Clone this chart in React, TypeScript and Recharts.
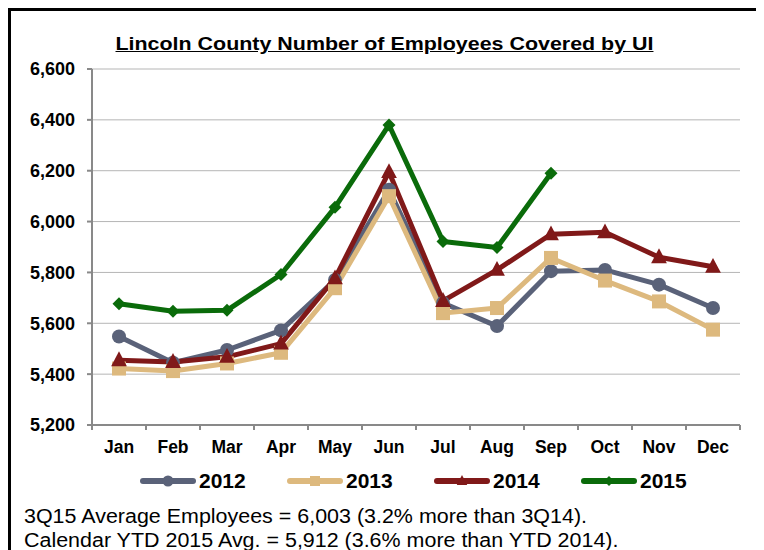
import React from 'react';
import { LineChart, Line, XAxis, YAxis, CartesianGrid } from 'recharts';

const months = ['Jan', 'Feb', 'Mar', 'Apr', 'May', 'Jun', 'Jul', 'Aug', 'Sep', 'Oct', 'Nov', 'Dec'];
const y2012 = [5548, 5445, 5495, 5572, 5770, 6125, 5680, 5589, 5805, 5810, 5752, 5660];
const y2013 = [5422, 5412, 5442, 5484, 5738, 6100, 5640, 5660, 5857, 5768, 5686, 5575];
const y2014 = [5455, 5448, 5468, 5520, 5777, 6195, 5688, 5810, 5950, 5958, 5860, 5822];
const y2015 = [5677, 5647, 5651, 5792, 6056, 6380, 5922, 5898, 6190, null, null, null];
const yTicks = [5200, 5400, 5600, 5800, 6000, 6200, 6400, 6600];

const seriesList = [
  { key: 'y2012', name: '2012', values: y2012, color: '#5A6279', shape: 'circle' },
  { key: 'y2013', name: '2013', values: y2013, color: '#DDB97E', shape: 'square' },
  { key: 'y2014', name: '2014', values: y2014, color: '#801919', shape: 'triangle' },
  { key: 'y2015', name: '2015', values: y2015, color: '#0A6B0A', shape: 'diamond' },
];

const data = months.map((m, i) => {
  const row: Record<string, any> = { month: m };
  seriesList.forEach((s) => {
    row[s.key] = s.values[i];
  });
  return row;
});

const FONT = '"Liberation Sans", Arial, sans-serif';
const CHART_W = 747;
const CHART_H = 460;
const MARGIN = { top: 58, right: 18, left: 11, bottom: 16 };
const Y_AXIS_W = 70;
const HALF_BAND = (CHART_W - MARGIN.left - MARGIN.right - Y_AXIS_W) / months.length / 2;
const AXIS_COLOR = '#898989';

function Marker({ shape, cx, cy, color, size }: { shape: string; cx: number; cy: number; color: string; size: number }) {
  const r = size / 2;
  if (shape === 'circle') return <circle cx={cx} cy={cy} r={r} fill={color} />;
  if (shape === 'square') return <rect x={cx - r} y={cy - r} width={size} height={size} fill={color} />;
  if (shape === 'triangle') {
    const h = size * 0.95;
    return (
      <polygon
        points={`${cx},${cy - h * 0.62} ${cx + r * 1.05},${cy + h * 0.42} ${cx - r * 1.05},${cy + h * 0.42}`}
        fill={color}
      />
    );
  }
  return (
    <polygon points={`${cx},${cy - r} ${cx + r},${cy} ${cx},${cy + r} ${cx - r},${cy}`} fill={color} />
  );
}

const markerSize: Record<string, number> = { circle: 14, square: 14, triangle: 15, diamond: 13 };

function MonthTick(props: any) {
  const { x, y, payload, index } = props;
  const axisY = y - 16;
  return (
    <g>
      <line x1={x - HALF_BAND} y1={axisY} x2={x - HALF_BAND} y2={axisY + 5} stroke={AXIS_COLOR} strokeWidth={2} />
      {index === months.length - 1 && (
        <line x1={x + HALF_BAND} y1={axisY} x2={x + HALF_BAND} y2={axisY + 5} stroke={AXIS_COLOR} strokeWidth={2} />
      )}
      <text x={x} y={y} dy="0.71em" textAnchor="middle" fill="#000" fontSize={17.5} fontWeight="bold" fontFamily={FONT}>
        {payload.value}
      </text>
    </g>
  );
}

function LegendIcon({ shape, color }: { shape: string; color: string }) {
  return (
    <svg width={58} height={20} style={{ display: 'block' }}>
      <line x1={4} y1={10} x2={54} y2={10} stroke={color} strokeWidth={6} strokeLinecap="round" />
      <Marker shape={shape} cx={29} cy={10} color={color} size={shape === 'circle' ? 11 : 10} />
    </svg>
  );
}

export default function App() {
  return (
    <div
      style={{
        position: 'relative',
        width: 753,
        height: 560,
        border: '3px solid #000',
        boxSizing: 'border-box',
        background: '#fff',
        fontFamily: FONT,
        overflow: 'hidden',
      }}
    >
      <div
        style={{
          position: 'absolute',
          top: 21,
          left: -3,
          width: CHART_W + 6,
          textAlign: 'center',
          fontSize: 18,
          lineHeight: '24px',
          fontWeight: 'bold',
          textDecoration: 'underline',
          color: '#000',
          transform: 'scaleX(1.19)',
          transformOrigin: '50% 50%',
        }}
      >
        Lincoln County Number of Employees Covered by UI
      </div>

      <div style={{ position: 'absolute', top: 0, left: 0 }}>
        <LineChart width={CHART_W} height={CHART_H} data={data} margin={MARGIN}>
          <CartesianGrid vertical={false} stroke="#B5B5B5" strokeWidth={1} />
          <XAxis
            dataKey="month"
            height={30}
            padding={{ left: HALF_BAND, right: HALF_BAND }}
            axisLine={{ stroke: AXIS_COLOR, strokeWidth: 2 }}
            tickLine={false}
            tickSize={5}
            tickMargin={11}
            interval={0}
            tick={<MonthTick />}
          />
          <YAxis
            width={Y_AXIS_W}
            domain={[5200, 6600]}
            ticks={yTicks}
            interval={0}
            allowDataOverflow
            axisLine={{ stroke: AXIS_COLOR, strokeWidth: 2 }}
            tickLine={{ stroke: AXIS_COLOR, strokeWidth: 2 }}
            tickSize={5}
            tickMargin={12}
            tickFormatter={(v: number) => v.toLocaleString('en-US')}
            tick={{ fill: '#000', fontSize: 18, fontWeight: 'bold', fontFamily: FONT }}
          />
          {seriesList.map((s) => (
            <Line
              key={s.key}
              dataKey={s.key}
              name={s.name}
              stroke={s.color}
              strokeWidth={5}
              strokeLinejoin="round"
              isAnimationActive={false}
              activeDot={false}
              dot={(p: any) => {
                if (p.cx == null || p.cy == null || p.value == null) return <g key={`${s.key}-${p.index}`} />;
                return (
                  <g key={`${s.key}-${p.index}`}>
                    <Marker shape={s.shape} cx={p.cx} cy={p.cy} color={s.color} size={markerSize[s.shape]} />
                  </g>
                );
              }}
            />
          ))}
        </LineChart>
      </div>

      <div style={{ position: 'absolute', top: 458, left: 128, display: 'flex' }}>
        {seriesList.map((s) => (
          <div key={s.key} style={{ width: 147, display: 'flex', alignItems: 'center' }}>
            <LegendIcon shape={s.shape} color={s.color} />
            <span style={{ fontSize: 21, fontWeight: 'bold', color: '#000', marginLeft: 2, lineHeight: '24px' }}>{s.name}</span>
          </div>
        ))}
      </div>

      <div
        style={{
          position: 'absolute',
          top: 493,
          left: 13,
          fontSize: 19.5,
          lineHeight: '24px',
          color: '#000',
          whiteSpace: 'nowrap',
          transform: 'scaleX(1.1)',
          transformOrigin: '0 50%',
        }}
      >
        <div>3Q15 Average Employees = 6,003 (3.2% more than 3Q14).</div>
        <div>Calendar YTD 2015 Avg. = 5,912 (3.6% more than YTD 2014).</div>
      </div>
    </div>
  );
}
